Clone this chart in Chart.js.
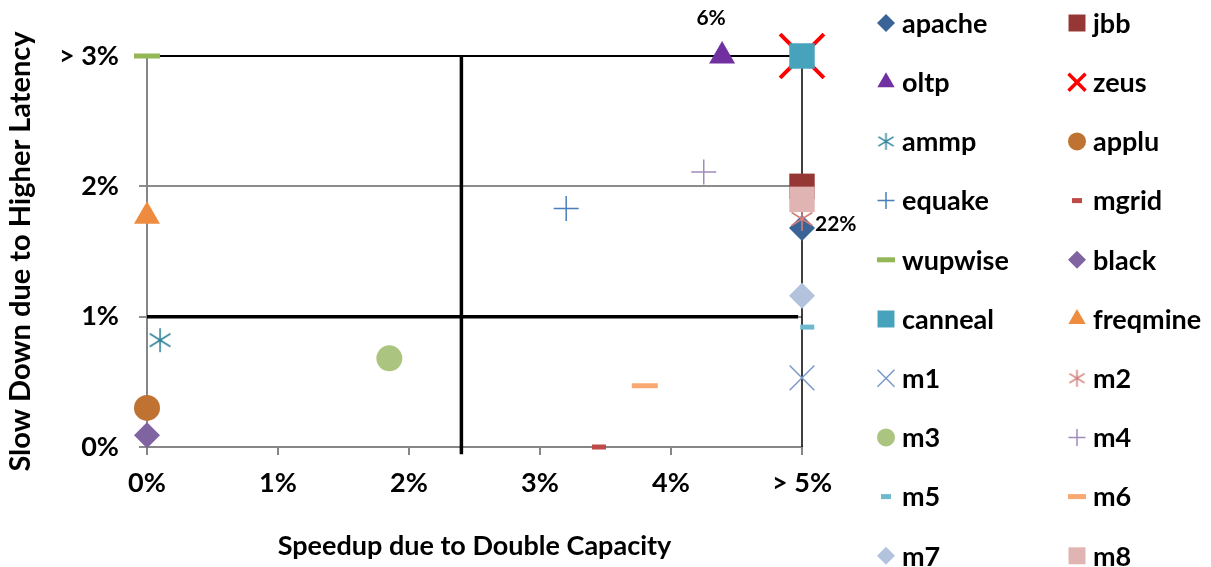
<!DOCTYPE html>
<html>
<head>
<meta charset="utf-8">
<script src="https://cdn.jsdelivr.net/npm/chart.js@4/dist/chart.umd.min.js"></script>
<style>
  html, body { margin: 0; padding: 0; background: #fff; }
  #wrap { width: 1211px; height: 567px; }
</style>
</head>
<body>
<div id="wrap"><canvas id="scatterChart"></canvas></div>
<script>
// 各ベンチマークの値 (%)
const benchmarks = ['apache', 'jbb', 'oltp', 'zeus', 'ammp', 'applu', 'equake', 'mgrid', 'wupwise', 'black',
                    'canneal', 'freqmine', 'm1', 'm2', 'm3', 'm4', 'm5', 'm6', 'm7', 'm8'];
const speedup  = [5, 5, 4.39, 5, 0.1, 0, 3.2, 3.45, 0, 0, 5, 0, 5, 5, 1.85, 4.25, 5.04, 3.8, 5, 5];
const slowdown = [1.68, 2.0, 3, 3, 0.82, 0.3, 1.83, 0, 3, 0.09, 3, 1.77, 0.53, 1.75, 0.68, 2.11, 0.92, 0.47, 1.16, 1.9];

const xTickLabels = ['0%', '1%', '2%', '3%', '4%', '> 5%'];
const yTickLabels = ['0%', '1%', '2%', '> 3%'];

// 点の横に付くラベル (上限を超えた実際の値)
const noteNames = ['oltp', 'apache'];
const noteTexts = ['6%', '22%'];

// 区切り線
const splitX = 2.4;
const splitY = 1;

// アスタリスク (縦線 + X) のマーカー画像
function asterisk(size, color, width) {
  const c = document.createElement('canvas');
  c.width = size;
  c.height = size;
  const g = c.getContext('2d');
  const h = size / 2;
  const d = h * 0.8;
  g.strokeStyle = color;
  g.lineWidth = width;
  g.beginPath();
  g.moveTo(h, 1); g.lineTo(h, size - 1);
  g.moveTo(h - d, h - d * 0.62); g.lineTo(h + d, h + d * 0.62);
  g.moveTo(h - d, h + d * 0.62); g.lineTo(h + d, h - d * 0.62);
  g.stroke();
  return c;
}

// マーカーの見た目
const styles = {
  apache:   { shape: 'rectRot',  color: '#3A6397', r: 13, lr: 9 },
  jbb:      { shape: 'rect',     color: '#953735', r: 18, lr: 12 },
  oltp:     { shape: 'triangle', color: '#7030A0', r: 15, lr: 10 },
  zeus:     { shape: 'crossRot', color: '#FF0000', r: 31, lr: 12, w: 4, lw: 3.5, line: true },
  ammp:     { shape: asterisk(26, '#31859C', 1.6), legendShape: asterisk(19, '#31859C', 1.5), color: '#31859C', r: 13, lr: 9 },
  applu:    { shape: 'circle',   color: '#C07232', r: 13, lr: 9 },
  equake:   { shape: 'cross',    color: '#4A7EBB', r: 12.5, lr: 8.5, w: 1.5, lw: 1.5, line: true },
  mgrid:    { shape: 'line',     color: '#BE4B48', r: 7, lr: 5, w: 5, lw: 5, line: true },
  wupwise:  { shape: 'line',     color: '#93B656', r: 13, lr: 9, w: 5, lw: 5, line: true },
  black:    { shape: 'rectRot',  color: '#8064A2', r: 13, lr: 9 },
  canneal:  { shape: 'rect',     color: '#47A3BB', r: 18, lr: 12 },
  freqmine: { shape: 'triangle', color: '#EE8B3E', r: 15, lr: 10 },
  m1:       { shape: 'crossRot', color: '#7B98CB', r: 17.5, lr: 12, w: 1.5, lw: 1.5, line: true },
  m2:       { shape: asterisk(26, '#D27E79', 1.6), legendShape: asterisk(19, '#D27E79', 1.5), color: '#D27E79', r: 13, lr: 9 },
  m3:       { shape: 'circle',   color: '#ABC47F', r: 13, lr: 9 },
  m4:       { shape: 'cross',    color: '#A08BBB', r: 12.5, lr: 8.5, w: 1.5, lw: 1.5, line: true },
  m5:       { shape: 'line',     color: '#6FB9CF', r: 7, lr: 5, w: 5, lw: 5, line: true },
  m6:       { shape: 'line',     color: '#F9A872', r: 13, lr: 9, w: 5, lw: 5, line: true },
  m7:       { shape: 'rectRot',  color: '#B3C3DE', r: 13, lr: 9 },
  m8:       { shape: 'rect',     color: '#DFB4B3', r: 18, lr: 12 }
};

const FONT = 'Lato, Calibri, "DejaVu Sans", sans-serif';

const pointSets = benchmarks.map((name, i) => {
  const s = styles[name];
  return {
    label: name,
    data: [{ x: speedup[i], y: slowdown[i] }],
    pointStyle: s.shape,
    pointRadius: s.r,
    pointHoverRadius: s.r,
    pointBackgroundColor: s.color,
    pointBorderColor: s.color,
    pointBorderWidth: s.line ? s.w : 0,
    showLine: false,
    clip: false,
    order: benchmarks.length - i
  };
});

function refLine(points, width, color) {
  return {
    label: '',
    data: points,
    showLine: true,
    borderColor: color,
    borderWidth: width,
    pointRadius: 0,
    pointHoverRadius: 0,
    clip: false,
    order: 100
  };
}

const lineSets = [
  refLine([{ x: 0, y: 3 }, { x: 5, y: 3 }], 2, '#000'),
  refLine([{ x: 5, y: 3 }, { x: 5, y: 0 }], 1.5, '#000'),
  refLine([{ x: 0, y: splitY }, { x: 4.97, y: splitY }], 3.5, '#000'),
  refLine([{ x: splitX, y: -0.055 }, { x: splitX, y: 3 }], 3.5, '#000')
];

// 凡例 (2列)
const legendPlugin = {
  id: 'twoColLegend',
  afterDraw(chart) {
    const ctx = chart.ctx;
    ctx.save();
    ctx.textBaseline = 'middle';
    ctx.textAlign = 'left';
    benchmarks.forEach((name, i) => {
      const s = styles[name];
      const col = i % 2;
      const row = Math.floor(i / 2);
      const mx = col === 0 ? 886 : 1077;
      const my = 23 + row * 59.2;
      ctx.fillStyle = s.color;
      ctx.strokeStyle = s.color;
      ctx.lineWidth = s.lw || 1;
      Chart.helpers.drawPoint(ctx, {
        pointStyle: s.legendShape || s.shape,
        radius: s.lr,
        rotation: 0,
        borderWidth: s.line ? s.lw : 0
      }, mx, my);
      ctx.font = 'bold 27px ' + FONT;
      ctx.fillStyle = '#000';
      ctx.fillText(name, mx + 16, my + 1);
    });
    ctx.restore();
  }
};

// 点の注記
const notePlugin = {
  id: 'pointNotes',
  afterDatasetsDraw(chart) {
    const ctx = chart.ctx;
    const xs = chart.scales.x, ys = chart.scales.y;
    ctx.save();
    ctx.font = 'bold 21px ' + FONT;
    ctx.fillStyle = '#000';
    ctx.textBaseline = 'middle';
    noteNames.forEach((name, k) => {
      const i = benchmarks.indexOf(name);
      const px = xs.getPixelForValue(speedup[i]);
      const py = ys.getPixelForValue(slowdown[i]);
      if (k === 0) {
        ctx.textAlign = 'center';
        ctx.fillText(noteTexts[k], px - 11, py - 38);
      } else {
        ctx.textAlign = 'left';
        ctx.fillText(noteTexts[k], px + 13, py - 4);
      }
    });
    ctx.restore();
  }
};

const chart = new Chart(document.getElementById('scatterChart'), {
  type: 'scatter',
  data: { datasets: lineSets.concat(pointSets) },
  options: {
    responsive: true,
    maintainAspectRatio: false,
    animation: false,
    events: [],
    layout: { padding: { left: 0, right: 409, top: 56, bottom: 0 } },
    plugins: {
      legend: { display: false },
      tooltip: { enabled: false }
    },
    scales: {
      x: {
        type: 'linear',
        min: 0,
        max: 5,
        afterFit(scale) { scale.height = 120; },
        border: { color: '#868686', width: 2 },
        grid: { drawOnChartArea: false, drawTicks: true, tickLength: 8, color: '#868686', lineWidth: 2 },
        ticks: {
          stepSize: 1,
          padding: 12,
          color: '#000',
          font: { family: FONT, size: 27, weight: 'bold' },
          callback: (v) => xTickLabels[Math.round(v)]
        },
        title: {
          display: true,
          text: 'Speedup due to Double Capacity',
          color: '#000',
          font: { family: FONT, size: 27, weight: 'bold' },
          padding: { top: 0, bottom: 5 }
        }
      },
      y: {
        type: 'linear',
        min: 0,
        max: 3,
        afterFit(scale) { scale.width = 147; },
        border: { color: '#868686', width: 2 },
        grid: { drawOnChartArea: true, drawTicks: true, tickLength: 8, color: '#8c8c8c', lineWidth: 2 },
        ticks: {
          stepSize: 1,
          padding: 20,
          color: '#000',
          font: { family: FONT, size: 27, weight: 'bold' },
          callback: (v) => yTickLabels[Math.round(v)]
        },
        title: {
          display: true,
          text: 'Slow Down due to Higher Latency',
          color: '#000',
          font: { family: FONT, size: 29, weight: 'bold' },
          padding: { top: 3, bottom: 0 }
        }
      }
    }
  },
  plugins: [notePlugin, legendPlugin]
});
</script>
</body>
</html>
